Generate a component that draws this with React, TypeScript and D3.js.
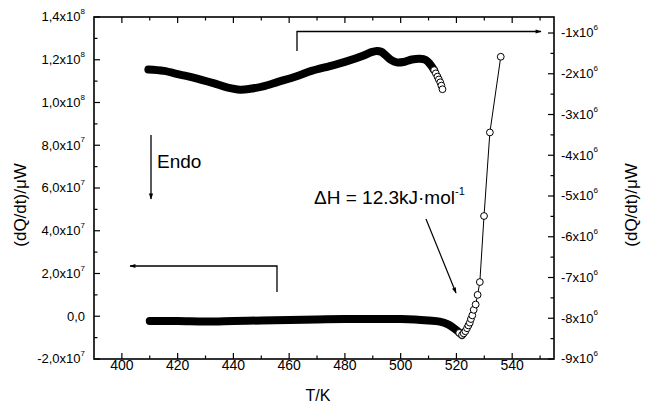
import React from "react";
import * as d3 from "d3";

// ---- data ----
// Upper curve (right axis, units of 1e6 µW)
const upperT = [409.5, 415, 420.8, 426, 432.8, 438, 442.4, 446, 450.7, 456, 462.7, 468, 474.6, 480, 486.5, 489.5, 491.4, 493, 494.5, 496.5, 498.6, 501, 504, 506.9, 509, 510.5, 512];
const upperV = [-1.896, -1.93, -2.02, -2.1, -2.23, -2.34, -2.39, -2.37, -2.31, -2.2, -2.06, -1.93, -1.81, -1.71, -1.56, -1.47, -1.44, -1.46, -1.54, -1.66, -1.72, -1.71, -1.65, -1.63, -1.66, -1.76, -1.91];
const upperTailT = [512, 512.6, 513.2, 513.7, 514.2, 514.6, 515];
const upperTailV = [-1.91, -1.99, -2.07, -2.14, -2.21, -2.29, -2.38];

// Lower curve (left axis, units of 1e7 µW)
const lowerT = [410, 420, 430, 440, 450, 460, 470, 480, 490, 500, 505, 510, 514, 517, 519, 520.5, 522];
const lowerV = [-0.222, -0.222, -0.246, -0.222, -0.199, -0.175, -0.152, -0.129, -0.129, -0.129, -0.152, -0.199, -0.25, -0.38, -0.55, -0.7, -0.877];
const riseT = [521, 522, 522.6, 523.2, 523.8, 524.3, 524.8, 525.2, 525.7, 526.2, 526.9, 527.6, 528.4, 529.9, 532, 535.9];
const riseV = [-0.78, -0.877, -0.8, -0.7, -0.56, -0.43, -0.3, -0.13, 0.04, 0.3, 0.55, 1.0, 1.6, 4.69, 8.6, 12.14];

const xTicks = [400, 420, 440, 460, 480, 500, 520, 540];
const xMinor = [410, 430, 450, 470, 490, 510, 530, 550];
const leftTicks = [-2, 0, 2, 4, 6, 8, 10, 12, 14];
const leftLabels = ["-2,0x10|7", "0,0", "2,0x10|7", "4,0x10|7", "6,0x10|7", "8,0x10|7", "1,0x10|8", "1,2x10|8", "1,4x10|8"];
const leftMinor = [-1, 1, 3, 5, 7, 9, 11, 13];
const rightTicks = [-9, -8, -7, -6, -5, -4, -3, -2, -1];
const rightLabels = ["-9x10|6", "-8x10|6", "-7x10|6", "-6x10|6", "-5x10|6", "-4x10|6", "-3x10|6", "-2x10|6", "-1x10|6"];
const rightMinor = [-8.5, -7.5, -6.5, -5.5, -4.5, -3.5, -2.5, -1.5];

const FONT = "'Liberation Sans', Arial, Helvetica, sans-serif";

function Label({ x, y, text, anchor, size }: { x: number; y: number; text: string; anchor: string; size: number }) {
  const [base, sup] = text.split("|");
  return (
    <text x={x} y={y} textAnchor={anchor} fontSize={size} fontFamily={FONT} fill="#000" dominantBaseline="middle">
      {base}
      {sup !== undefined && (
        <tspan fontSize={size * 0.62} dy={-size * 0.45}>{sup}</tspan>
      )}
    </text>
  );
}

export default function App() {
  const W = 648, H = 407;
  const L = 94, R = 554, T = 17, B = 359;
  const x = d3.scaleLinear().domain([390, 555]).range([L, R]);
  const yl = d3.scaleLinear().domain([-2, 14]).range([B, T]);
  const yr = d3.scaleLinear().domain([-9, -0.607]).range([B, T]);

  const upperLine = d3.line<number>().x((_, i) => x(upperT[i])).y((v) => yr(v)).curve(d3.curveCatmullRom);
  const lowerLine = d3.line<number>().x((_, i) => x(lowerT[i])).y((v) => yl(v)).curve(d3.curveCatmullRom);
  const riseLine = d3.line<number>().x((_, i) => x(riseT[i])).y((v) => yl(v));

  const MAJ = 6, MIN = 3.5;

  return (
    <svg width={W} height={H} style={{ position: "absolute", left: 0, top: 0, background: "#fff" }}>
      <defs>
        <marker id="ah" viewBox="0 0 10 10" refX="9" refY="5" markerWidth="7" markerHeight="6" orient="auto" markerUnits="userSpaceOnUse">
          <path d="M0,1.5 L10,5 L0,8.5 z" fill="#000" />
        </marker>
      </defs>
      {/* frame */}
      <rect x={L} y={T} width={R - L} height={B - T} fill="none" stroke="#000" strokeWidth={1.6} />
      {/* x ticks bottom and top */}
      {xTicks.map((t) => (
        <g key={"xt" + t}>
          <line x1={x(t)} x2={x(t)} y1={B} y2={B - MAJ} stroke="#000" strokeWidth={1.2} />
          <line x1={x(t)} x2={x(t)} y1={T} y2={T + MAJ} stroke="#000" strokeWidth={1.2} />
          <text x={x(t)} y={366} textAnchor="middle" dominantBaseline="middle" fontSize={14} fontFamily={FONT}>{t}</text>
        </g>
      ))}
      {xMinor.map((t) => (
        <g key={"xm" + t}>
          <line x1={x(t)} x2={x(t)} y1={B} y2={B - MIN} stroke="#000" strokeWidth={1.2} />
          <line x1={x(t)} x2={x(t)} y1={T} y2={T + MIN} stroke="#000" strokeWidth={1.2} />
        </g>
      ))}
      {/* left ticks */}
      {leftTicks.map((t, i) => (
        <g key={"lt" + t}>
          <line x1={L} x2={L + MAJ} y1={yl(t)} y2={yl(t)} stroke="#000" strokeWidth={1.2} />
          <Label x={85} y={yl(t) + 1} text={leftLabels[i]} anchor="end" size={13} />
        </g>
      ))}
      {leftMinor.map((t) => (
        <line key={"lm" + t} x1={L} x2={L + MIN} y1={yl(t)} y2={yl(t)} stroke="#000" strokeWidth={1.2} />
      ))}
      {/* right ticks */}
      {rightTicks.map((t, i) => (
        <g key={"rt" + t}>
          <line x1={R} x2={R - MAJ} y1={yr(t)} y2={yr(t)} stroke="#000" strokeWidth={1.2} />
          <Label x={561} y={yr(t) + 1} text={rightLabels[i]} anchor="start" size={13} />
        </g>
      ))}
      {rightMinor.map((t) => (
        <line key={"rm" + t} x1={R} x2={R - MIN} y1={yr(t)} y2={yr(t)} stroke="#000" strokeWidth={1.2} />
      ))}
      {/* axis titles */}
      <text x={318} y={397} textAnchor="middle" dominantBaseline="middle" fontSize={16} fontFamily={FONT}>T/K</text>
      <text transform="translate(22,205) rotate(-90)" textAnchor="middle" dominantBaseline="middle" fontSize={17} fontFamily={FONT}>(dQ/dt)/μW</text>
      <text transform="translate(633,205) rotate(-90)" textAnchor="middle" dominantBaseline="middle" fontSize={17} fontFamily={FONT}>(dQ/dt)/μW</text>

      {/* upper curve */}
      <path d={upperLine(upperV) || ""} fill="none" stroke="#000" strokeWidth={8} strokeLinecap="round" strokeLinejoin="round" />
      {upperTailV.map((v, i) => (
        <circle key={"ut" + i} cx={x(upperTailT[i])} cy={yr(v)} r={3.4} fill="#fff" stroke="#000" strokeWidth={1} />
      ))}

      {/* lower curve */}
      <path d={lowerLine(lowerV) || ""} fill="none" stroke="#000" strokeWidth={8} strokeLinecap="round" strokeLinejoin="round" />
      <path d={riseLine(riseV) || ""} fill="none" stroke="#000" strokeWidth={1} />
      {riseV.map((v, i) => (
        <circle key={"rs" + i} cx={x(riseT[i])} cy={yl(v)} r={3.4} fill="#fff" stroke="#000" strokeWidth={1} />
      ))}

      {/* annotations */}
      <line x1={151} y1={135} x2={151} y2={199} stroke="#000" strokeWidth={1.3} markerEnd="url(#ah)" />
      <text x={157} y={163} dominantBaseline="middle" fontSize={19} fontFamily={FONT}>Endo</text>

      <polyline points="277,292 277,266 130,266" fill="none" stroke="#000" strokeWidth={1.3} markerEnd="url(#ah)" />
      <polyline points="297,51 297,31.5 541,31.5" fill="none" stroke="#000" strokeWidth={1.3} markerEnd="url(#ah)" />

      <text x={314} y={199} dominantBaseline="middle" fontSize={19} fontFamily={FONT}>
        ΔH = 12.3kJ·mol<tspan fontSize={11} dy={-7}>-1</tspan>
      </text>
      <line x1={426} y1={219} x2={456} y2={293} stroke="#000" strokeWidth={1.2} markerEnd="url(#ah)" />
    </svg>
  );
}
